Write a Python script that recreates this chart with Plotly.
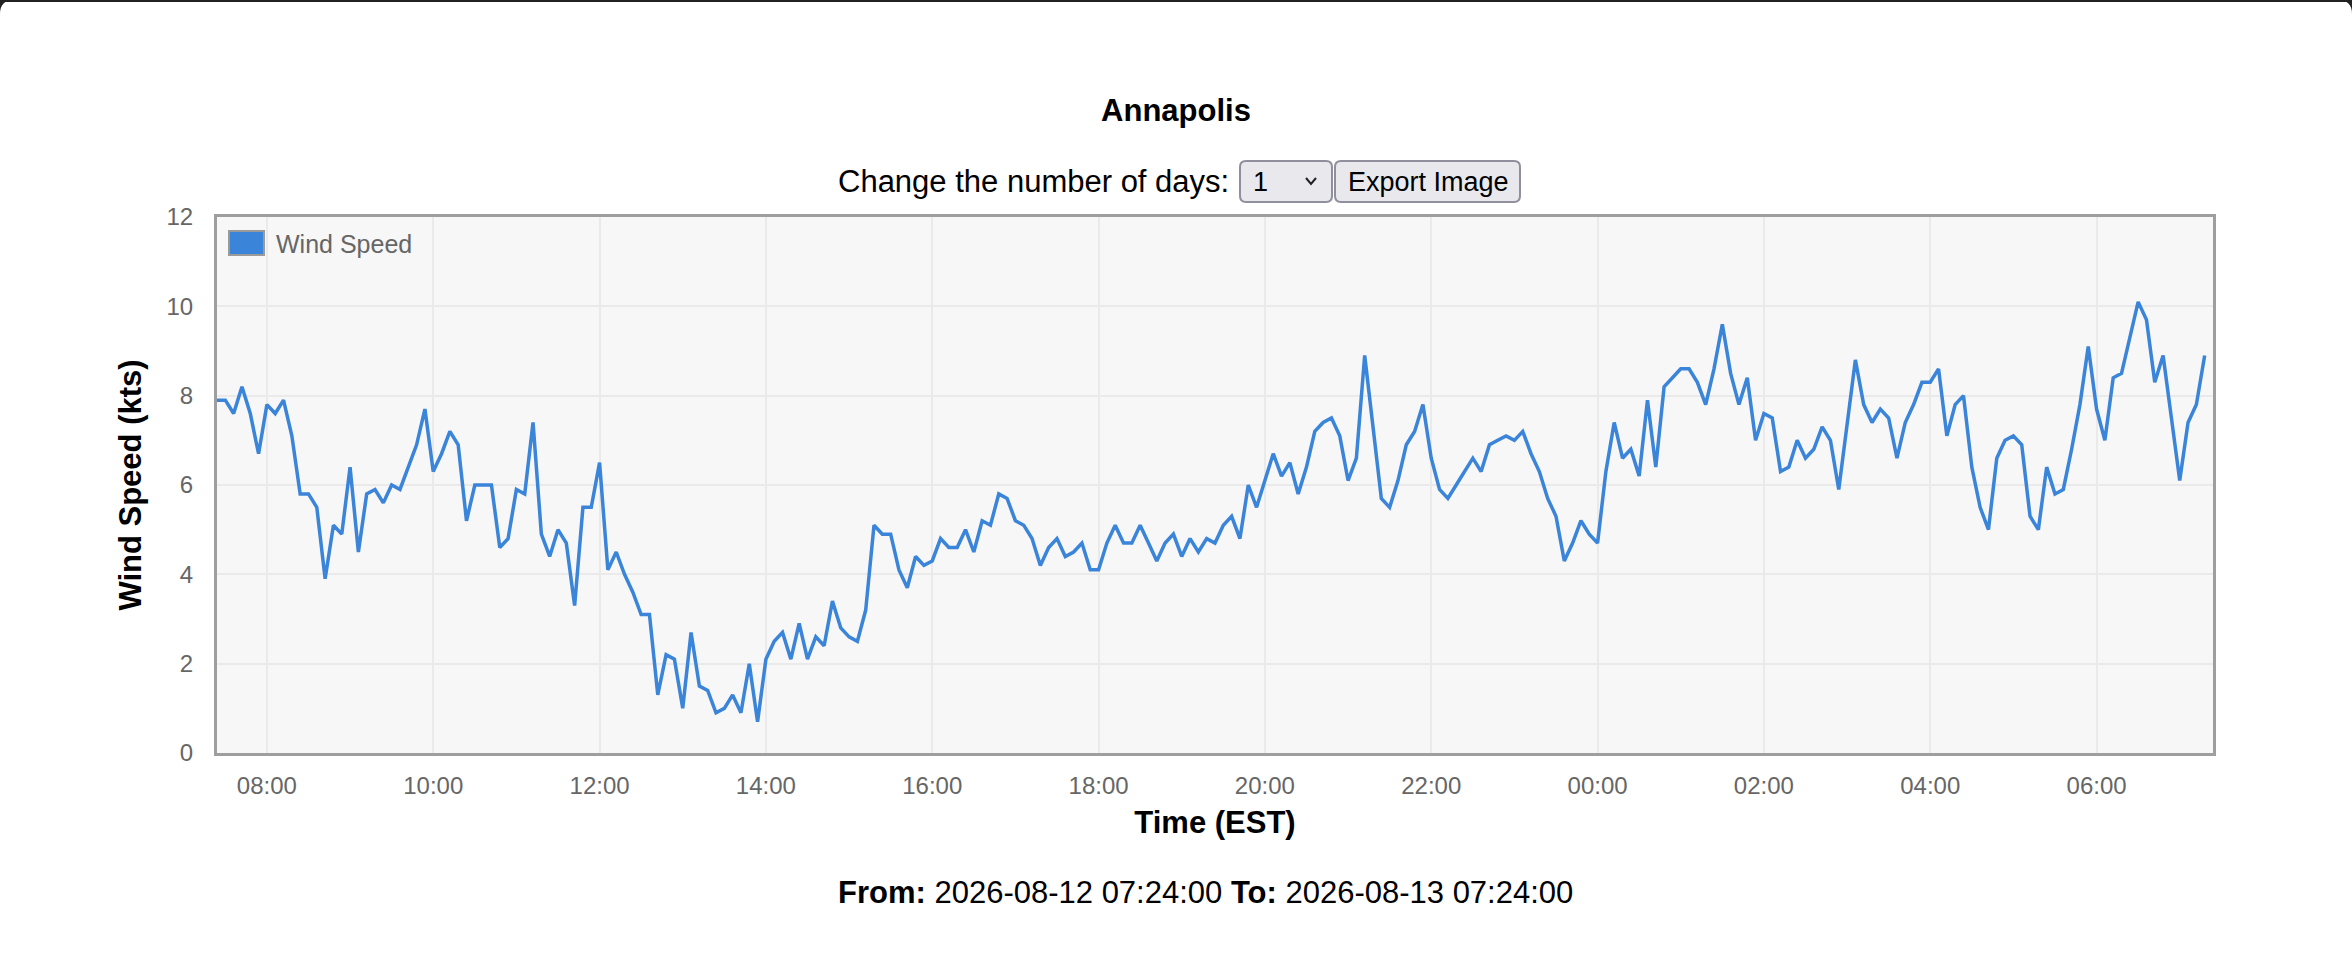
import pandas as pd
import plotly.graph_objects as go

# wind speed readings (kts), one every 6 minutes from 07:24
start_time = "2026-08-12 07:24"
end_time = "2026-08-13 07:24"
wind_speed = [
    7.9, 7.9, 7.6, 8.2, 7.6, 6.7, 7.8, 7.6, 7.9, 7.1,
    5.8, 5.8, 5.5, 3.9, 5.1, 4.9, 6.4, 4.5, 5.8, 5.9,
    5.6, 6.0, 5.9, 6.4, 6.9, 7.7, 6.3, 6.7, 7.2, 6.9,
    5.2, 6.0, 6.0, 6.0, 4.6, 4.8, 5.9, 5.8, 7.4, 4.9,
    4.4, 5.0, 4.7, 3.3, 5.5, 5.5, 6.5, 4.1, 4.5, 4.0,
    3.6, 3.1, 3.1, 1.3, 2.2, 2.1, 1.0, 2.7, 1.5, 1.4,
    0.9, 1.0, 1.3, 0.9, 2.0, 0.7, 2.1, 2.5, 2.7, 2.1,
    2.9, 2.1, 2.6, 2.4, 3.4, 2.8, 2.6, 2.5, 3.2, 5.1,
    4.9, 4.9, 4.1, 3.7, 4.4, 4.2, 4.3, 4.8, 4.6, 4.6,
    5.0, 4.5, 5.2, 5.1, 5.8, 5.7, 5.2, 5.1, 4.8, 4.2,
    4.6, 4.8, 4.4, 4.5, 4.7, 4.1, 4.1, 4.7, 5.1, 4.7,
    4.7, 5.1, 4.7, 4.3, 4.7, 4.9, 4.4, 4.8, 4.5, 4.8,
    4.7, 5.1, 5.3, 4.8, 6.0, 5.5, 6.1, 6.7, 6.2, 6.5,
    5.8, 6.4, 7.2, 7.4, 7.5, 7.1, 6.1, 6.6, 8.9, 7.3,
    5.7, 5.5, 6.1, 6.9, 7.2, 7.8, 6.6, 5.9, 5.7, 6.0,
    6.3, 6.6, 6.3, 6.9, 7.0, 7.1, 7.0, 7.2, 6.7, 6.3,
    5.7, 5.3, 4.3, 4.7, 5.2, 4.9, 4.7, 6.3, 7.4, 6.6,
    6.8, 6.2, 7.9, 6.4, 8.2, 8.4, 8.6, 8.6, 8.3, 7.8,
    8.6, 9.6, 8.5, 7.8, 8.4, 7.0, 7.6, 7.5, 6.3, 6.4,
    7.0, 6.6, 6.8, 7.3, 7.0, 5.9, 7.3, 8.8, 7.8, 7.4,
    7.7, 7.5, 6.6, 7.4, 7.8, 8.3, 8.3, 8.6, 7.1, 7.8,
    8.0, 6.4, 5.5, 5.0, 6.6, 7.0, 7.1, 6.9, 5.3, 5.0,
    6.4, 5.8, 5.9, 6.8, 7.8, 9.1, 7.7, 7.0, 8.4, 8.5,
    9.3, 10.1, 9.7, 8.3, 8.9, 7.5, 6.1, 7.4, 7.8, 8.9,
]
times = pd.date_range(start_time, periods=len(wind_speed), freq="6min")
y_ticks = [0, 2, 4, 6, 8, 10, 12]

LINE_COLOR = "#3a84d9"
FONT = "Liberation Sans, Arial, sans-serif"

# page / plot box in pixels
W, H = 2352, 980
L, R, T, B = 217, 2213, 217, 753


def px(x):
    return (x - L) / (R - L)


def py(y):
    return (B - y) / (B - T)


def rrect(x0, y0, x1, y1, r):
    pts = [
        ("M", x0 + r, y0), ("L", x1 - r, y0), ("Q", x1, y0, x1, y0 + r),
        ("L", x1, y1 - r), ("Q", x1, y1, x1 - r, y1), ("L", x0 + r, y1),
        ("Q", x0, y1, x0, y1 - r), ("L", x0, y0 + r), ("Q", x0, y0, x0 + r, y0),
    ]
    out = []
    for p in pts:
        cmd, coords = p[0], p[1:]
        xy = []
        for i in range(0, len(coords), 2):
            xy.append(f"{px(coords[i])},{py(coords[i + 1])}")
        out.append(cmd + " " + " ".join(xy))
    return " ".join(out) + " Z"


def corner(cx, cy, dx, dy, r=14):
    return (f"M {px(cx)},{py(cy)} L {px(cx + dx * r)},{py(cy)} "
            f"Q {px(cx)},{py(cy)} {px(cx)},{py(cy + dy * r)} Z")


fig = go.Figure()
fig.add_trace(go.Scatter(
    x=times, y=wind_speed, mode="lines", name="Wind Speed",
    line=dict(color=LINE_COLOR, width=3.5), showlegend=False,
))

shapes = [
    # window frame
    dict(type="rect", xref="paper", yref="paper", x0=px(0), x1=px(W),
         y0=py(2), y1=py(0), fillcolor="#222222", line_width=0, layer="above"),
    dict(type="path", xref="paper", yref="paper", path=corner(0, 0, 1, 1),
         fillcolor="#222222", line_width=0),
    dict(type="path", xref="paper", yref="paper", path=corner(W, 0, -1, 1),
         fillcolor="#222222", line_width=0),
    # dropdown + button
    dict(type="path", xref="paper", yref="paper", path=rrect(1240, 161, 1332, 202, 6),
         fillcolor="#e9e9ed", line=dict(color="#8f8f9d", width=2)),
    dict(type="path", xref="paper", yref="paper", path=rrect(1335, 161, 1520, 202, 6),
         fillcolor="#e9e9ed", line=dict(color="#8f8f9d", width=2)),
    dict(type="path", xref="paper", yref="paper",
         path=f"M {px(1306)},{py(178)} L {px(1311)},{py(184)} L {px(1316)},{py(178)}",
         line=dict(color="#222222", width=2)),
    # legend box
    dict(type="rect", xref="paper", yref="paper", x0=px(229), x1=px(264),
         y0=py(255), y1=py(231), fillcolor=LINE_COLOR,
         line=dict(color="#9a9a9a", width=2)),
]

annotations = [
    dict(text="Change the number of days:", x=px(1231), y=py(182), xanchor="right",
         yanchor="middle", font=dict(size=31, color="#000000")),
    dict(text="1", x=px(1251), y=py(182), xanchor="left", yanchor="middle",
         font=dict(size=27, color="#000000")),
    dict(text="Export Image", x=px(1428), y=py(182), xanchor="center", yanchor="middle",
         font=dict(size=27, color="#000000")),
    dict(text="Wind Speed", x=px(274), y=py(244), xanchor="left", yanchor="middle",
         font=dict(size=25, color="#666666")),
    dict(text="<b>From:</b> 2026-08-12 07:24:00 <b>To:</b> 2026-08-13 07:24:00",
         x=px(1205), y=py(892), xanchor="center", yanchor="middle",
         font=dict(size=31, color="#000000")),
]
for a in annotations:
    a.update(xref="paper", yref="paper", showarrow=False)

fig.update_layout(
    width=W, height=H,
    margin=dict(l=L, r=W - R, t=T, b=H - B, pad=0),
    paper_bgcolor="white", plot_bgcolor="#f7f7f7",
    font=dict(family=FONT, color="#666666", size=24),
    title=dict(text="<b>Annapolis</b>", x=0.5, xref="container", xanchor="center",
               y=1 - 110 / H, yref="container", yanchor="middle",
               font=dict(size=31, color="#000000")),
    shapes=shapes, annotations=annotations, showlegend=False,
)
fig.update_xaxes(
    range=[start_time, end_time], tick0="2026-08-12 08:00", dtick=2 * 3600 * 1000,
    tickformat="%H:%M", showgrid=True, gridcolor="#eaeaea", gridwidth=2,
    showline=True, mirror=True, linecolor="#9e9e9e", linewidth=3,
    ticks="", ticklabelstandoff=9, zeroline=False,
    title=dict(text="<b>Time (EST)</b>", font=dict(size=31, color="#000000"), standoff=14),
)
fig.update_yaxes(
    range=[0, 12], tickvals=y_ticks, showgrid=True, gridcolor="#eaeaea", gridwidth=2,
    showline=True, mirror=True, linecolor="#9e9e9e", linewidth=3,
    ticks="", ticklabelstandoff=16, zeroline=False,
    title=dict(text="<b>Wind Speed (kts)</b>", font=dict(size=31, color="#000000"), standoff=16),
)

fig.write_html(
    "out.html",
    config={"displayModeBar": False},
    post_script="document.body.style.margin='0';document.body.style.overflow='hidden';",
)
